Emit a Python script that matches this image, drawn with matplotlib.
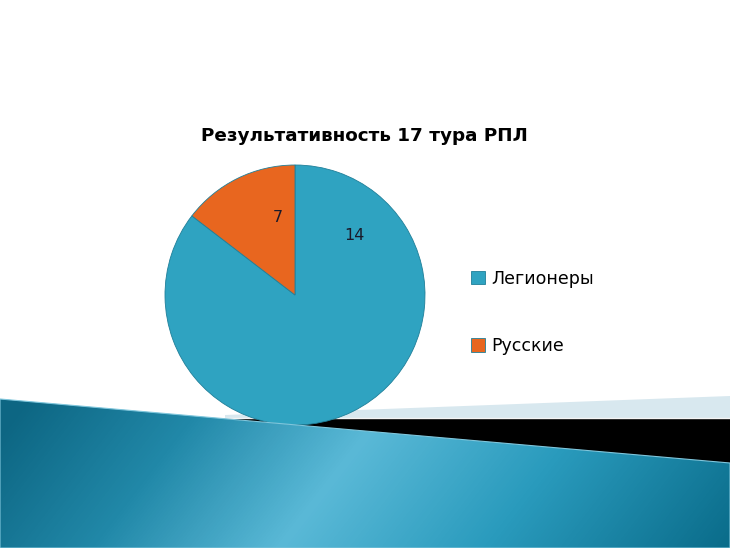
import numpy as np
import matplotlib.pyplot as plt
from matplotlib.patches import Polygon
from matplotlib.colors import LinearSegmentedColormap

# slice sizes as drawn (orange wedge is ~53 degrees), labels as printed on the slide
categories = ['Легионеры', 'Русские']
slice_sizes = [41, 7]
slice_labels = ['14', '7']
colors = ['#2fa3c1', '#e8661f']
title = 'Результативность 17 тура РПЛ'

W, H = 730, 548
fig = plt.figure(figsize=(W / 100, H / 100), dpi=100)
ax = fig.add_axes([0, 0, 1, 1])
ax.set_xlim(0, W)
ax.set_ylim(0, H)
ax.set_aspect('equal')
ax.axis('off')


def img(x, y):
    # picture pixel coords (y down) -> axes coords (y up)
    return (x, H - y)


# slide decoration at the bottom
light = Polygon([img(225, 418), img(225, 415), img(730, 396), img(730, 418)],
                closed=True, facecolor='#d8e8ef', edgecolor='none', zorder=1)
ax.add_patch(light)
ax.plot([225, 730], [H - 418, H - 418], color='#f4f4f4', lw=1, zorder=1.5)
black = Polygon([img(225, 419), img(730, 419), img(730, 470), img(225, 470)],
                closed=True, facecolor='black', edgecolor='none', zorder=1)
ax.add_patch(black)

blue_shape = Polygon([img(0, 399), img(730, 463), img(730, 548), img(0, 548)],
                     closed=True, facecolor='none', edgecolor='#7fc6dc', lw=0.8, zorder=4)
ax.add_patch(blue_shape)
gx, gy = np.meshgrid(np.arange(W), np.arange(380, H))
p = gx + 0.77 * (gy - 470)
cmap = LinearSegmentedColormap.from_list(
    'slide', [(0.0, '#0d6683'), (0.22, '#2188a8'), (0.45, '#5ab9d7'),
              (0.7, '#2a9bbd'), (1.0, '#0a6c8a')])
grad = np.clip((p + 30) / 820, 0, 1)
im = ax.imshow(grad, cmap=cmap, extent=(0, W, 0, H - 380), origin='upper',
               aspect='auto', zorder=3, interpolation='bilinear')
im.set_clip_path(blue_shape)

# pie
cx, cy = img(295, 295)
wedges, _ = ax.pie(slice_sizes, colors=colors, startangle=90, counterclock=False,
                   center=(cx, cy), radius=130,
                   wedgeprops=dict(edgecolor='#1f7f99', linewidth=0.6))
for w in wedges:
    w.set_zorder(2)
ax.set_xlim(0, W)
ax.set_ylim(0, H)

ax.text(*img(354, 235), slice_labels[0], fontsize=11.5, ha='center', va='center',
        color='#1a1a2a', zorder=5)
ax.text(*img(278, 217), slice_labels[1], fontsize=11.5, ha='center', va='center',
        color='#1a1a2a', zorder=5)

ax.text(*img(364, 136), title, fontsize=13.2, fontweight='bold', ha='center',
        va='center', color='black', zorder=5)

leg = ax.legend(wedges, categories, loc='upper left',
                bbox_to_anchor=(455 / W, 1 - 254 / H), bbox_transform=fig.transFigure,
                frameon=False, fontsize=12.5, handlelength=0.8, handleheight=0.8,
                handletextpad=0.4, labelspacing=2.85)

fig.savefig('out.png', dpi=100)
